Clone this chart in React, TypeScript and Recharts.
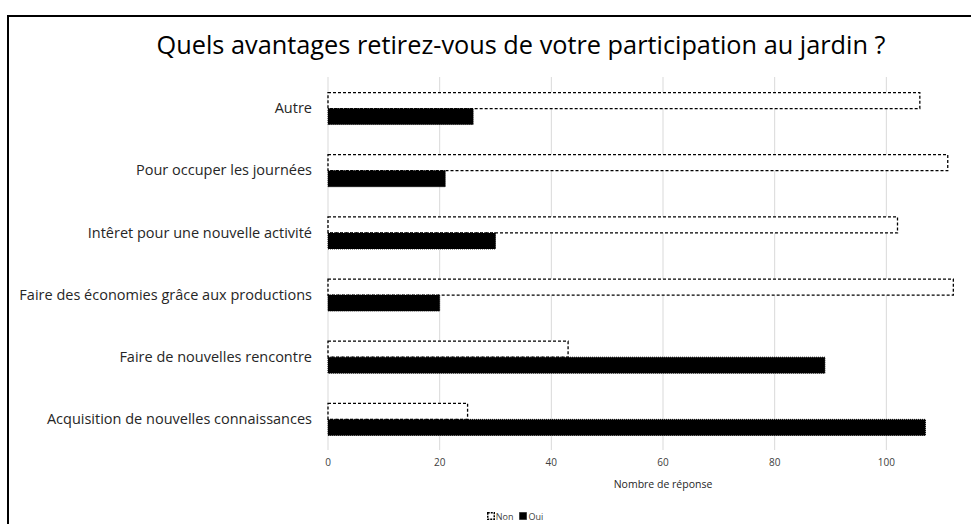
import React from "react";
import { BarChart, Bar, XAxis, YAxis, CartesianGrid, Legend } from "recharts";

const categories = [
  "Autre",
  "Pour occuper les journées",
  "Intêret pour une nouvelle activité",
  "Faire des économies grâce aux productions",
  "Faire de nouvelles rencontre",
  "Acquisition de nouvelles connaissances",
];
const nonValues = [106, 111, 102, 112, 43, 25];
const ouiValues = [26, 21, 30, 20, 89, 107];
const xTicks = [0, 20, 40, 60, 80, 100];

const title = "Quels avantages retirez-vous de votre participation au jardin ?";
const xTitle = "Nombre de réponse";

const data = categories.map((c, i) => ({ name: c, Non: nonValues[i], Oui: ouiValues[i] }));

const FONT = "'Open Sans', Lato, sans-serif";

const LegendContent = () => (
  <div style={{ display: "flex", justifyContent: "center", alignItems: "center", fontFamily: FONT, fontSize: 9, color: "#404040", height: 16 }}>
    <svg width={8} height={8} style={{ marginRight: 1 }}>
      <rect x={0.75} y={0.75} width={6.5} height={6.5} fill="#fff" stroke="#000" strokeWidth={1.5} strokeDasharray="2 1" />
    </svg>
    <span style={{ marginRight: 6 }}>Non</span>
    <svg width={8} height={8} style={{ marginRight: 1 }}>
      <rect x={0.5} y={0.5} width={7} height={7} fill="#000" stroke="#000" strokeWidth={1} strokeDasharray="1 1" />
    </svg>
    <span>Oui</span>
  </div>
);

export default function App() {
  return (
    <div style={{ position: "fixed", left: 0, top: 0, width: 971, height: 524, overflow: "hidden", background: "#fff" }}>
      <div style={{ position: "absolute", left: 7, top: 15, width: 2000, height: 2000, borderLeft: "2px solid #000", borderTop: "2px solid #000" }} />
      <svg style={{ position: "absolute", left: 0, top: 0 }} width={971} height={70}>
        <text x={521} y={54} textAnchor="middle" fontFamily={FONT} fontSize={25.3} fill="#000">
          {title}
        </text>
      </svg>
      <div style={{ position: "absolute", left: 0, top: 0 }}>
        <BarChart
          width={1010}
          height={524}
          data={data}
          layout="vertical"
          margin={{ top: 77, right: 12, bottom: 18, left: 0 }}
          barCategoryGap="25%"
          barGap={0}
        >
          <CartesianGrid horizontal={false} vertical={true} stroke="#d9d9d9" strokeWidth={1} />
          <XAxis
            type="number"
            domain={[0, 120]}
            ticks={xTicks}
            interval={0}
            axisLine={false}
            tickLine={false}
            tickSize={0}
            tickMargin={9}
            height={40}
            tick={{ fontFamily: FONT, fontSize: 10, fill: "#404040" }}
            label={{ value: xTitle, position: "insideBottom", offset: 2, fontFamily: FONT, fontSize: 10.5, fill: "#262626" }}
          />
          <YAxis
            type="category"
            dataKey="name"
            width={328}
            axisLine={false}
            tickLine={false}
            tickSize={0}
            tickMargin={16}
            interval={0}
            tick={{ fontFamily: FONT, fontSize: 14.5, fill: "#262626" }}
          />
          <Legend
            verticalAlign="bottom"
            height={16}
            content={<LegendContent />}
            wrapperStyle={{ top: 508, bottom: "auto", left: 460, width: 110, height: 16 }}
          />
          <Bar dataKey="Non" fill="#ffffff" stroke="#000000" strokeWidth={1.3} strokeDasharray="3 2" isAnimationActive={false} />
          <Bar dataKey="Oui" fill="#000000" stroke="#000000" strokeWidth={1} strokeDasharray="1 1" isAnimationActive={false} />
        </BarChart>
      </div>
    </div>
  );
}
